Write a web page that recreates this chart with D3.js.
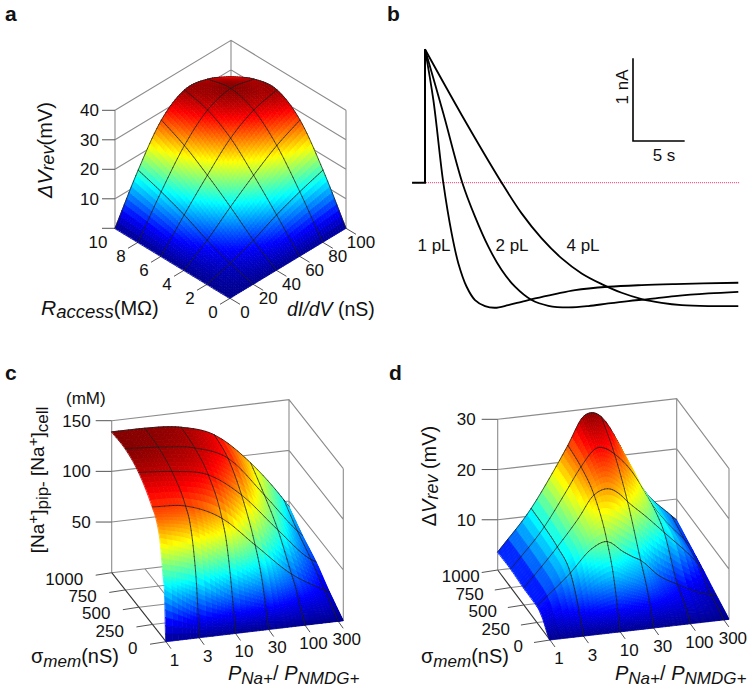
<!DOCTYPE html>
<html><head><meta charset="utf-8">
<script src="https://cdn.jsdelivr.net/npm/d3@7/dist/d3.min.js"></script>
<style>html,body{margin:0;padding:0;background:#fff}svg{display:block}text{font-family:"Liberation Sans",Arial,sans-serif;fill:#111}</style>
</head><body><svg id="c" width="750" height="691"></svg>
<script>
// ---------- Panel a data
const aConductance=[0,20,40,60,80,100];
const aAccess=[0,2,4,6,8,10];
const aRows=[ // row per access value, column per conductance
[0,0,0,0,0,0],
[0,2.4,5.5,9.3,12.4,15],
[0,5.5,12,18,23.3,27.2],
[0,9.3,18,25.8,30.6,32.7],
[0,12.4,23.3,30.6,33.2,31.6],
[0,15,27.2,32.7,31.6,27.7]];
const aZTicks=[10,20,30,40];
// ---------- Panel b data
const bT1=[0,0.81,1.77,2.58,3.23,4.03,4.84,5.81,6.77,8.06,9.35,10.65,12.58,14.52,17.74,20.97,24.19,30.32];
const bI1=[1.613,1,0,-0.613,-0.976,-1.258,-1.419,-1.492,-1.512,-1.48,-1.44,-1.4,-1.347,-1.298,-1.258,-1.238,-1.226,-1.21];
const bT2=[0,1.77,3.61,4.84,6.13,7.42,8.71,10.32,11.94,13.87,15.81,17.74,19.68,21.61,24.19,27.42,30.32];
const bI2=[1.613,0.839,0,-0.411,-0.774,-1.056,-1.258,-1.419,-1.488,-1.508,-1.492,-1.46,-1.431,-1.407,-1.371,-1.339,-1.319];
const bT4=[0,3.55,7.42,9.35,11.29,13.23,15.16,17.1,19.03,20.97,22.9,24.84,27.42,30.32];
const bI4=[1.613,0.819,0,-0.371,-0.673,-0.915,-1.097,-1.226,-1.331,-1.407,-1.452,-1.48,-1.492,-1.492];
const bStepT=[-1.25,0,0];
const bStepI=[0,0,1.613];
// ---------- Panel c data
const cRatio=[1,3,10,30,100,300,355];
const cSigma=[0,20,50,100,170,250,500,750,1000];
const cRows=[
[0,0,0,0,0,0,0],
[43,22,12,6,3,1,0.9],
[62,50,28,17,7,3,2.2],
[90,78,53,34,14,6,4.4],
[108,102,80,52,25,10,7.5],
[116,113,96.6,66.4,33.5,13.8,11],
[133,130,122.4,98.7,60,27,24],
[139.5,137,132,118,77.5,38,33],
[139,138.7,135.4,124,92,51.6,44.4]];
const ratioTicks=[1,3,10,30,100,300];
const sigmaTicks=[0,250,500,750,1000];
const cZTicks=[50,100,150];
// ---------- Panel d data
const dRatio=[1,3,6,10,17,23,30,55,100,300,355];
const dSigma=[0,50,125,250,500,750,1000];
const dRows=[
[0,0,0,0,0,0,0,0,0,0,0],
[0.7,2.4,3.6,4,3.4,3,2.7,1.7,1.2,0.4,0.35],
[2.2,5.5,8.2,9.2,7.8,7,6,3.9,2.6,0.9,0.8],
[3.3,9.1,13.4,14.5,12.1,10.9,10,6.5,4.4,1.6,1.5],
[3.4,10.8,16,20.3,21.1,19.9,18.2,14.8,11.2,4.3,3],
[3.7,11.3,17.6,22.4,25.8,25.4,24.2,20,13.5,5.5,4.4],
[3.6,11.5,18,23.2,28.7,29.1,28.1,22,14.3,6.8,5.8]];
const dZTicks=[10,20,30];

const svg=d3.select('#c');
const jet=d3.scaleLinear().domain([0,.125,.375,.625,.875,1]).range(['#00008f','#0000ff','#00ffff','#ffff00','#ff0000','#800000']).clamp(true);
const WALL='#8c8c8c',TICK='#555';

function tangents(xs,ys){
  const n=xs.length,d=[],m=[];
  for(let i=0;i<n-1;i++)d.push((ys[i+1]-ys[i])/(xs[i+1]-xs[i]));
  m[0]=d[0];m[n-1]=d[n-2];
  for(let i=1;i<n-1;i++){
    const h0=xs[i]-xs[i-1],h1=xs[i+1]-xs[i];
    let t=(d[i-1]*h1+d[i]*h0)/(h0+h1);
    if(d[i-1]*d[i]>0){const lim=3*Math.min(Math.abs(d[i-1]),Math.abs(d[i]));if(Math.abs(t)>lim)t=Math.sign(t)*lim;}
    m[i]=t;
  }
  return m;
}
function hermite(xs,ys,x){
  let i=d3.bisectRight(xs,x)-1; i=Math.max(0,Math.min(xs.length-2,i));
  const m=tangents(xs,ys),h=xs[i+1]-xs[i],t=(x-xs[i])/h,t2=t*t,t3=t2*t;
  return (2*t3-3*t2+1)*ys[i]+(t3-2*t2+t)*h*m[i]+(-2*t3+3*t2)*ys[i+1]+(t3-t2)*h*m[i+1];
}
function samples(xs,n){const o=[];for(let i=0;i<xs.length-1;i++)for(let k=0;k<n;k++)o.push(xs[i]+(xs[i+1]-xs[i])*k/n);o.push(xs[xs.length-1]);return o;}

function surface(o){
  const g=svg.append('g');
  const P=(u,v,z)=>{const a=o.fu(u),b=o.fv(v);return [o.O[0]+a*o.U[0]+b*o.V[0],o.O[1]+a*o.U[1]+b*o.V[1]-o.fz(z)];};
  // walls
  const top=o.zDomainMax;
  const wall=d3.path();
  const uEnd=o.fu.domain()[1],vEnd=o.fv.domain()[1],u0=o.fu.domain()[0],v0=o.fv.domain()[0];
  [[uEnd,v0],[uEnd,vEnd],[u0,vEnd]].forEach(([a,b])=>{const p=P(a,b,0),q=P(a,b,top);wall.moveTo(p[0],p[1]);wall.lineTo(q[0],q[1]);});
  o.zTicks.concat(o.zTicks.includes(top)?[]:[top]).forEach(z=>{
    const a=P(u0,vEnd,z),b=P(uEnd,vEnd,z),c=P(uEnd,v0,z);
    wall.moveTo(a[0],a[1]);wall.lineTo(b[0],b[1]);wall.lineTo(c[0],c[1]);
  });
  if(o.floor){
    o.uTicks.slice(1).forEach(u=>{const a=P(u,v0,0),b=P(u,vEnd,0);wall.moveTo(a[0],a[1]);wall.lineTo(b[0],b[1]);});
    o.vTicks.slice(1).forEach(v=>{const a=P(u0,v,0),b=P(uEnd,v,0);wall.moveTo(a[0],a[1]);wall.lineTo(b[0],b[1]);});
    const a=P(uEnd,vEnd,0),b=P(uEnd,v0,0),c=P(u0,vEnd,0);
    wall.moveTo(c[0],c[1]);wall.lineTo(a[0],a[1]);wall.lineTo(b[0],b[1]);
  }
  g.append('path').attr('d',wall.toString()).attr('fill','none').attr('stroke',WALL).attr('stroke-width',1.1);
  if(o.floor){const a=P(u0,v0,0),b=P(u0,vEnd,0);
    g.append('line').attr('x1',a[0]).attr('y1',a[1]).attr('x2',b[0]).attr('y2',b[1]).attr('stroke','#333').attr('stroke-width',1.1);}
  // ticks
  const tick=d3.path();
  o.zTicks.concat(o.zZero?[0]:[]).forEach(z=>{const p=P(u0,vEnd,z);tick.moveTo(p[0],p[1]);tick.lineTo(p[0]+o.zTickLen,p[1]);});
  o.uTicks.forEach(u=>{const p=P(u,v0,0);tick.moveTo(p[0],p[1]);tick.lineTo(p[0]+o.uTickVec[0],p[1]+o.uTickVec[1]);});
  o.vTicks.forEach(v=>{if(o.skipVTick&&o.skipVTick.includes(v))return;const p=P(u0,v,0);tick.moveTo(p[0],p[1]);tick.lineTo(p[0]+o.vTickVec[0],p[1]+o.vTickVec[1]);});
  g.append('path').attr('d',tick.toString()).attr('fill','none').attr('stroke',TICK).attr('stroke-width',1);
  // surface
  const us=samples(o.us,o.nu),vs=samples(o.vs,o.nv);
  const uT=o.uT||(d=>d),vT=o.vT||(d=>d);
  const usT=o.us.map(uT),vsT=o.vs.map(vT);
  const Z=vs.map(v=>{
    const vt=vT(v);
    return us.map(u=>{
      const ut=uT(u);
      const col=o.rows.map(r=>hermite(usT,r,ut));
      return Math.max(0,hermite(vsT,col,vt));
    });
  });
  const base=(u,v)=>P(u,v,0)[1];
  const items=[];
  for(let j=0;j<vs.length-1;j++)for(let i=0;i<us.length-1;i++){
    const a=P(us[i],vs[j],Z[j][i]),b=P(us[i+1],vs[j],Z[j][i+1]),c=P(us[i+1],vs[j+1],Z[j+1][i+1]),d=P(us[i],vs[j+1],Z[j+1][i]);
    const m=(Z[j][i]+Z[j][i+1]+Z[j+1][i+1]+Z[j+1][i])/4;
    const key=(base(us[i],vs[j])+base(us[i+1],vs[j+1]))/2;
    items.push({k:key,d:`M${a}L${b}L${c}L${d}Z`,c:jet(m/o.zMax),q:1});
  }
  const cellKey=(i,j)=>{
    i=Math.max(0,Math.min(us.length-2,i));j=Math.max(0,Math.min(vs.length-2,j));
    return (base(us[i],vs[j])+base(us[i+1],vs[j+1]))/2;
  };
  const near=(x,y)=>Math.abs(x-y)<1e-6;
  us.forEach((u,i)=>{ if(!o.uLines.some(l=>near(l,u)))return;
    for(let j=0;j<vs.length-1;j++){
      const a=P(u,vs[j],Z[j][i]),b=P(u,vs[j+1],Z[j+1][i]);
      const k=d3.max([i-1,i].flatMap(ii=>[j-1,j,j+1].map(jj=>cellKey(ii,jj))));
      items.push({k:k+.001,d:`M${a}L${b}`,c:null});
    }});
  vs.forEach((v,j)=>{ if(!o.vLines.some(l=>near(l,v)))return;
    for(let i=0;i<us.length-1;i++){
      const a=P(us[i],v,Z[j][i]),b=P(us[i+1],v,Z[j][i+1]);
      const k=d3.max([j-1,j].flatMap(jj=>[i-1,i,i+1].map(ii=>cellKey(ii,jj))));
      items.push({k:k+.001,d:`M${a}L${b}`,c:null});
    }});
  items.sort((a,b)=>a.k-b.k);
  g.append('g').selectAll('path').data(items).join('path')
    .attr('d',d=>d.d)
    .attr('fill',d=>d.c||'none')
    .attr('stroke',d=>d.c||'#1c1c1c')
    .attr('stroke-width',d=>d.c?0.8:0.7)
    .attr('stroke-linecap','round')
    .attr('stroke-linejoin','round');
  // labels
  const tx=(x,y,t,anchor)=>g.append('text').attr('x',x).attr('y',y).attr('font-size',o.fs).attr('text-anchor',anchor||'middle').attr('dy','0.36em').text(t);
  o.zTicks.forEach(z=>{const p=P(u0,vEnd,z);tx(p[0]+o.zLabelDx,p[1],z,'end');});
  o.uTicks.forEach(u=>{const p=P(u,v0,0);tx(p[0]+o.uLab[0],p[1]+o.uLab[1],u,o.uAnchor||'middle');});
  o.vTicks.forEach(v=>{const p=P(u0,v,0);const dx=o.vTweak&&o.vTweak[v]||0;tx(p[0]+o.vLab[0]+dx,p[1]+o.vLab[1],v,o.vAnchor||'middle');});
}
function rich(x,y,rot,anchor,spans){
  const t=svg.append('text').attr('text-anchor',anchor)
    .attr('transform',`translate(${x},${y})`+(rot?` rotate(${rot})`:''));
  spans.forEach(s=>{t.append('tspan').attr('font-size',s[1]).attr('font-style',s[2]?'italic':'normal').attr('dy',s[3]||0).text(s[0]);});
}
const logRatio=d3.scaleLog().domain([1,355]).range([0,1]);
const L=d=>Math.log10(d);

surface({O:[230,298.3],U:[116,-70],V:[-115,-70],
  fu:d3.scaleLinear().domain([0,100]).range([0,1]),fv:d3.scaleLinear().domain([0,10]).range([0,1]),
  fz:d3.scaleLinear().domain([0,40]).range([0,118]),zDomainMax:40,zTicks:aZTicks,zZero:true,zMax:33.6,
  us:aConductance,vs:aAccess,rows:aRows,nu:10,nv:10,uLines:aConductance.slice(1),vLines:aAccess.slice(1),
  uTicks:aConductance,vTicks:aAccess,skipVTick:[10],zTickLen:-13,uTickVec:[10,6],vTickVec:[-10,6],
  zLabelDx:-16,uLab:[15,14],vLab:[-17,14],fs:17});

surface({O:[166,641.7],U:[177.3,-21],V:[-54.3,-69],
  fu:logRatio,fv:d3.scaleLinear().domain([0,1000]).range([0,1]),
  fz:d3.scaleLinear().domain([0,150]).range([0,152]),zDomainMax:150,zTicks:cZTicks,zMax:140,floor:true,
  us:cRatio,vs:cSigma,rows:cRows,nu:8,nv:6,uT:L,uLines:[3,10,30,100,300],vLines:[250,500,750,1000],
  uTicks:ratioTicks,vTicks:sigmaTicks,zTickLen:-16,uTickVec:[5,7],vTickVec:[-16,2.5],
  zLabelDx:-21,uLab:[8.5,17.7],vLab:[-28.5,6],vAnchor:'end',fs:17});

surface({O:[550,640],U:[179,-20.7],V:[-52.3,-70],
  fu:logRatio,fv:d3.scaleLinear().domain([0,1000]).range([0,1]),
  fz:d3.scaleLinear().domain([0,30]).range([0,150.7]),zDomainMax:30,zTicks:dZTicks,zMax:29.4,floor:true,
  us:dRatio,vs:dSigma,rows:dRows,nu:5,nv:8,uT:L,uLines:[3,10,30,100,300],vLines:[250,500,750,1000],
  uTicks:ratioTicks,vTicks:sigmaTicks,zTickLen:-16,uTickVec:[5,7],vTickVec:[-16,2.5],
  zLabelDx:-22,uLab:[9,18.3],vLab:[-27,6],vAnchor:'end',vTweak:{1000:9},fs:17});

// Panel b
const bx=d3.scaleLinear().domain([0,30.32]).range([425,738.3]);
const by=d3.scaleLinear().domain([0,1]).range([182.7,100]);
const gb=svg.append('g');
gb.append('line').attr('x1',bx(-1.25)).attr('x2',740).attr('y1',by(0)).attr('y2',by(0)).attr('stroke','#e8306a').attr('stroke-width',1).attr('stroke-dasharray','1 1');
const bLine=d3.line().x(d=>bx(d[0])).y(d=>by(d[1]));
gb.append('path').attr('d',bLine(d3.zip(bStepT,bStepI))).attr('fill','none').attr('stroke','#000').attr('stroke-width',2);
[[bT1,bI1],[bT2,bI2],[bT4,bI4]].forEach(([t,i])=>{
  gb.append('path').attr('d',bLine.curve(d3.curveCatmullRom.alpha(0.5))(d3.zip(t,i))).attr('fill','none').attr('stroke','#000').attr('stroke-width',1.8);
});
const sx0=633,sy0=141,barS=5,barN=1;
const sx=bx(barS)-bx(0),sy=by(0)-by(barN);
gb.append('path').attr('d',`M${sx0},${sy0-sy}V${sy0}H${sx0+sx}`).attr('fill','none').attr('stroke','#000').attr('stroke-width',1.6);
[['1 pL',434],['2 pL',512],['4 pL',583]].forEach(([t,x])=>gb.append('text').attr('x',x).attr('y',245).attr('dy','.36em').attr('text-anchor','middle').attr('font-size',17).text(t));
gb.append('text').attr('x',664).attr('y',155).attr('dy','.36em').attr('text-anchor','middle').attr('font-size',17).text('5 s');
gb.append('text').attr('transform','translate(622,87) rotate(-90)').attr('dy','.36em').attr('text-anchor','middle').attr('font-size',17).text('1 nA');

// panel letters
[['a',5,21],['b',387,21],['c',5,380],['d',389,380]].forEach(([t,x,y])=>svg.append('text').attr('x',x).attr('y',y).attr('font-size',21).attr('font-weight','bold').attr('fill','#000').text(t));

// axis titles
rich(52,150,-90,'middle',[['Δ',20,true],['V',21,true],['rev',18,true,2],['(mV)',20,false,-2]]);
rich(41,315,0,'start',[['R',21,true],['access',18.5,true,3],['(MΩ)',20,false,-3]]);
rich(287,316,0,'start',[['dI/dV',19.5,true],[' (nS)',19.5,false]]);
rich(31,663,0,'start',[['σ',20,false],['mem',17,true,4],['(nS)',20,false,-4]]);
rich(228,680,0,'start',[['P',20,true],['Na+',17,true,4],['/ ',20,false,-4],['P',20,true],['NMDG+',17,true,4]]);
rich(66,404,0,'start',[['(mM)',17,false]]);
rich(44,480,-90,'middle',[['[Na',19,false],['+',15,false,-6],[']',19,false,6],['pip',17,false,4],['-',17,false,0],[' [Na',19,false,-4],['+',15,false,-6],[']',19,false,6],['cell',17,false,4]]);
rich(436,476,-90,'middle',[['Δ',20,false],['V',20,true],['rev',18,true,2],[' (mV)',20,false,-2]]);
rich(421,663,0,'start',[['σ',20,false],['mem',17,true,4],['(nS)',20,false,-4]]);
rich(615,680,0,'start',[['P',20,true],['Na+',17,true,4],['/ ',20,false,-4],['P',20,true],['NMDG+',17,true,4]]);
</script></body></html>
